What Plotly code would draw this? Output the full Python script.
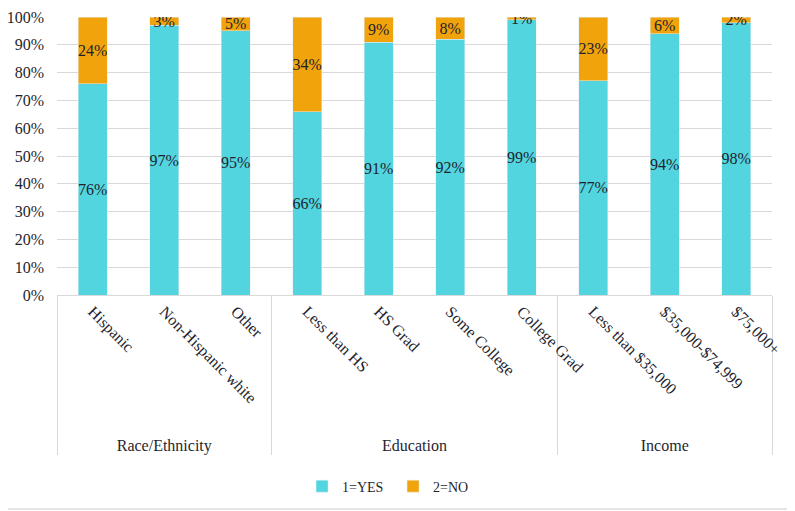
import plotly.graph_objects as go

# data
groups = ["Race/Ethnicity"] * 3 + ["Education"] * 4 + ["Income"] * 3
categories = ["Hispanic", "Non-Hispanic white", "Other",
              "Less than HS", "HS Grad", "Some College", "College Grad",
              "Less than $35,000", "$35,000-$74,999", "$75,000+"]
yes_pct = [76, 97, 95, 66, 91, 92, 99, 77, 94, 98]
no_pct = [24, 3, 5, 34, 9, 8, 1, 23, 6, 2]
tick_vals = [0, 10, 20, 30, 40, 50, 60, 70, 80, 90, 100]

FONT = "Liberation Serif"
TXT = "#1f1f2e"

# trailing nbsp pushes the group row a bit lower, like the original
x_cats = [groups, [c + "\u00a0" * 3 for c in categories]]

fig = go.Figure()
fig.add_trace(go.Bar(x=x_cats, y=yes_pct, name="1=YES",
                     marker_color="#52D5DF",
                     text=[f"{v}%" for v in yes_pct], textposition="inside",
                     insidetextanchor="middle", textangle=0,
                     textfont=dict(family=FONT, size=16, color=TXT)))
fig.add_trace(go.Bar(x=x_cats, y=no_pct, name="2=NO",
                     marker_color="#F0A30A",
                     text=[f"{v}%" for v in no_pct], textposition="inside",
                     insidetextanchor="middle", textangle=0,
                     textfont=dict(family=FONT, size=16, color=TXT)))

# page body adds an 8px margin, so the figure is shifted by that
fig.update_layout(
    barmode="stack", bargap=0.6,
    width=787, height=503,
    margin=dict(l=49, r=23, t=9, b=214),
    paper_bgcolor="white", plot_bgcolor="white",
    font=dict(family=FONT, size=16, color=TXT),
    uniformtext=dict(minsize=16, mode="show"),
    showlegend=True,
    legend=dict(orientation="h", traceorder="normal", bgcolor="rgba(0,0,0,0)",
                x=0.47, xanchor="center", y=-0.689, yanchor="middle",
                font=dict(family=FONT, size=14, color=TXT),
                itemwidth=30, entrywidth=46),
    shapes=[
        dict(type="line", xref="paper", yref="paper", x0=1.028, x1=1.028,
             y0=-0.77, y1=1.2, line=dict(color="#d8dedd", width=1.5)),
        dict(type="line", xref="paper", yref="paper", x0=-0.2, x1=1.028,
             y0=-0.77, y1=-0.77, line=dict(color="#d8dedd", width=1.5)),
    ],
)
fig.update_yaxes(range=[0, 100], tickvals=tick_vals,
                 ticktext=[f"{v}%" for v in tick_vals],
                 showgrid=True, gridcolor="#d9d9d9", gridwidth=1,
                 zeroline=False, showline=False, ticks="",
                 ticklabelstandoff=12, automargin=False,
                 tickfont=dict(family=FONT, size=16, color=TXT))
fig.update_xaxes(type="multicategory", tickangle=45, automargin=False,
                 showline=True, linecolor="#d9d9d9", linewidth=1,
                 showdividers=True, dividercolor="#d9d9d9", dividerwidth=1,
                 ticks="", tickfont=dict(family=FONT, size=16, color=TXT))

fig.write_html("out.html")
